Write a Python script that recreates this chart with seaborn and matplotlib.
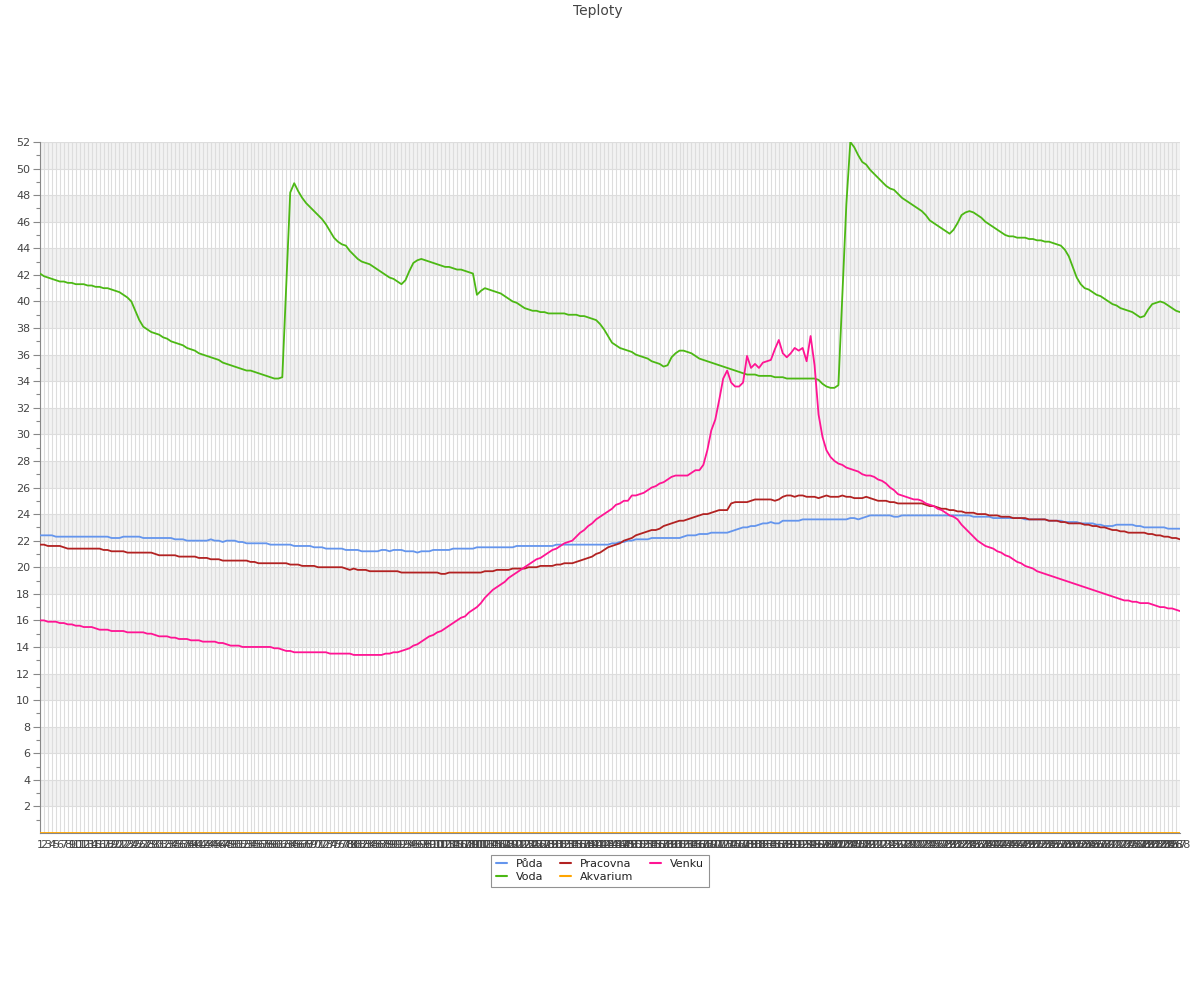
import numpy as np
import pandas as pd
import matplotlib
matplotlib.use("Agg")
import matplotlib.pyplot as plt
from matplotlib.lines import Line2D
import seaborn as sns

# ---------------- data ----------------
x_labels = [str(i) for i in range(1, 289)]

puda = [
    22.4, 22.4, 22.4, 22.4, 22.3, 22.3, 22.3, 22.3, 22.3, 22.3,
    22.3, 22.3, 22.3, 22.3, 22.3, 22.3, 22.3, 22.3, 22.2, 22.2,
    22.2, 22.3, 22.3, 22.3, 22.3, 22.3, 22.2, 22.2, 22.2, 22.2,
    22.2, 22.2, 22.2, 22.2, 22.1, 22.1, 22.1, 22.0, 22.0, 22.0,
    22.0, 22.0, 22.0, 22.1, 22.0, 22.0, 21.9, 22.0, 22.0, 22.0,
    21.9, 21.9, 21.8, 21.8, 21.8, 21.8, 21.8, 21.8, 21.7, 21.7,
    21.7, 21.7, 21.7, 21.7, 21.6, 21.6, 21.6, 21.6, 21.6, 21.5,
    21.5, 21.5, 21.4, 21.4, 21.4, 21.4, 21.4, 21.3, 21.3, 21.3,
    21.3, 21.2, 21.2, 21.2, 21.2, 21.2, 21.3, 21.3, 21.2, 21.3,
    21.3, 21.3, 21.2, 21.2, 21.2, 21.1, 21.2, 21.2, 21.2, 21.3,
    21.3, 21.3, 21.3, 21.3, 21.4, 21.4, 21.4, 21.4, 21.4, 21.4,
    21.5, 21.5, 21.5, 21.5, 21.5, 21.5, 21.5, 21.5, 21.5, 21.5,
    21.6, 21.6, 21.6, 21.6, 21.6, 21.6, 21.6, 21.6, 21.6, 21.6,
    21.7, 21.7, 21.7, 21.7, 21.7, 21.7, 21.7, 21.7, 21.7, 21.7,
    21.7, 21.7, 21.7, 21.7, 21.8, 21.8, 21.9, 21.9, 22.0, 22.0,
    22.1, 22.1, 22.1, 22.1, 22.2, 22.2, 22.2, 22.2, 22.2, 22.2,
    22.2, 22.2, 22.3, 22.4, 22.4, 22.4, 22.5, 22.5, 22.5, 22.6,
    22.6, 22.6, 22.6, 22.6, 22.7, 22.8, 22.9, 23.0, 23.0, 23.1,
    23.1, 23.2, 23.3, 23.3, 23.4, 23.3, 23.3, 23.5, 23.5, 23.5,
    23.5, 23.5, 23.6, 23.6, 23.6, 23.6, 23.6, 23.6, 23.6, 23.6,
    23.6, 23.6, 23.6, 23.6, 23.7, 23.7, 23.6, 23.7, 23.8, 23.9,
    23.9, 23.9, 23.9, 23.9, 23.9, 23.8, 23.8, 23.9, 23.9, 23.9,
    23.9, 23.9, 23.9, 23.9, 23.9, 23.9, 23.9, 23.9, 23.9, 23.9,
    23.9, 23.9, 23.9, 23.9, 23.9, 23.8, 23.8, 23.8, 23.8, 23.8,
    23.7, 23.7, 23.7, 23.7, 23.7, 23.7, 23.7, 23.7, 23.6, 23.6,
    23.6, 23.6, 23.6, 23.6, 23.5, 23.5, 23.5, 23.5, 23.4, 23.4,
    23.4, 23.4, 23.3, 23.3, 23.3, 23.3, 23.2, 23.2, 23.1, 23.1,
    23.1, 23.2, 23.2, 23.2, 23.2, 23.2, 23.1, 23.1, 23.0, 23.0,
    23.0, 23.0, 23.0, 23.0, 22.9, 22.9, 22.9, 22.9,
]

voda = [
    42.1, 41.9, 41.8, 41.7, 41.6, 41.5, 41.5, 41.4, 41.4, 41.3,
    41.3, 41.3, 41.2, 41.2, 41.1, 41.1, 41.0, 41.0, 40.9, 40.8,
    40.7, 40.5, 40.3, 40.0, 39.3, 38.6, 38.1, 37.9, 37.7, 37.6,
    37.5, 37.3, 37.2, 37.0, 36.9, 36.8, 36.7, 36.5, 36.4, 36.3,
    36.1, 36.0, 35.9, 35.8, 35.7, 35.6, 35.4, 35.3, 35.2, 35.1,
    35.0, 34.9, 34.8, 34.8, 34.7, 34.6, 34.5, 34.4, 34.3, 34.2,
    34.2, 34.3, 41.2, 48.2, 48.9, 48.3, 47.8, 47.4, 47.1, 46.8,
    46.5, 46.2, 45.8, 45.3, 44.8, 44.5, 44.3, 44.2, 43.8, 43.5,
    43.2, 43.0, 42.9, 42.8, 42.6, 42.4, 42.2, 42.0, 41.8, 41.7,
    41.5, 41.3, 41.6, 42.3, 42.9, 43.1, 43.2, 43.1, 43.0, 42.9,
    42.8, 42.7, 42.6, 42.6, 42.5, 42.4, 42.4, 42.3, 42.2, 42.1,
    40.5, 40.8, 41.0, 40.9, 40.8, 40.7, 40.6, 40.4, 40.2, 40.0,
    39.9, 39.7, 39.5, 39.4, 39.3, 39.3, 39.2, 39.2, 39.1, 39.1,
    39.1, 39.1, 39.1, 39.0, 39.0, 39.0, 38.9, 38.9, 38.8, 38.7,
    38.6, 38.3, 37.9, 37.4, 36.9, 36.7, 36.5, 36.4, 36.3, 36.2,
    36.0, 35.9, 35.8, 35.7, 35.5, 35.4, 35.3, 35.1, 35.2, 35.8,
    36.1, 36.3, 36.3, 36.2, 36.1, 35.9, 35.7, 35.6, 35.5, 35.4,
    35.3, 35.2, 35.1, 35.0, 34.9, 34.8, 34.7, 34.6, 34.5, 34.5,
    34.5, 34.4, 34.4, 34.4, 34.4, 34.3, 34.3, 34.3, 34.2, 34.2,
    34.2, 34.2, 34.2, 34.2, 34.2, 34.2, 34.1, 33.8, 33.6, 33.5,
    33.5, 33.7, 40.5, 47.3, 52.0, 51.6, 51.0, 50.5, 50.3, 49.9,
    49.6, 49.3, 49.0, 48.7, 48.5, 48.4, 48.1, 47.8, 47.6, 47.4,
    47.2, 47.0, 46.8, 46.5, 46.1, 45.9, 45.7, 45.5, 45.3, 45.1,
    45.4, 45.9, 46.5, 46.7, 46.8, 46.7, 46.5, 46.3, 46.0, 45.8,
    45.6, 45.4, 45.2, 45.0, 44.9, 44.9, 44.8, 44.8, 44.8, 44.7,
    44.7, 44.6, 44.6, 44.5, 44.5, 44.4, 44.3, 44.2, 43.9, 43.4,
    42.6, 41.8, 41.3, 41.0, 40.9, 40.7, 40.5, 40.4, 40.2, 40.0,
    39.8, 39.7, 39.5, 39.4, 39.3, 39.2, 39.0, 38.8, 38.9, 39.4,
    39.8, 39.9, 40.0, 39.9, 39.7, 39.5, 39.3, 39.2,
]

pracovna = [
    21.7, 21.7, 21.6, 21.6, 21.6, 21.6, 21.5, 21.4, 21.4, 21.4,
    21.4, 21.4, 21.4, 21.4, 21.4, 21.4, 21.3, 21.3, 21.2, 21.2,
    21.2, 21.2, 21.1, 21.1, 21.1, 21.1, 21.1, 21.1, 21.1, 21.0,
    20.9, 20.9, 20.9, 20.9, 20.9, 20.8, 20.8, 20.8, 20.8, 20.8,
    20.7, 20.7, 20.7, 20.6, 20.6, 20.6, 20.5, 20.5, 20.5, 20.5,
    20.5, 20.5, 20.5, 20.4, 20.4, 20.3, 20.3, 20.3, 20.3, 20.3,
    20.3, 20.3, 20.3, 20.2, 20.2, 20.2, 20.1, 20.1, 20.1, 20.1,
    20.0, 20.0, 20.0, 20.0, 20.0, 20.0, 20.0, 19.9, 19.8, 19.9,
    19.8, 19.8, 19.8, 19.7, 19.7, 19.7, 19.7, 19.7, 19.7, 19.7,
    19.7, 19.6, 19.6, 19.6, 19.6, 19.6, 19.6, 19.6, 19.6, 19.6,
    19.6, 19.5, 19.5, 19.6, 19.6, 19.6, 19.6, 19.6, 19.6, 19.6,
    19.6, 19.6, 19.7, 19.7, 19.7, 19.8, 19.8, 19.8, 19.8, 19.9,
    19.9, 19.9, 19.9, 20.0, 20.0, 20.0, 20.1, 20.1, 20.1, 20.1,
    20.2, 20.2, 20.3, 20.3, 20.3, 20.4, 20.5, 20.6, 20.7, 20.8,
    21.0, 21.1, 21.3, 21.5, 21.6, 21.7, 21.8, 22.0, 22.1, 22.2,
    22.4, 22.5, 22.6, 22.7, 22.8, 22.8, 22.9, 23.1, 23.2, 23.3,
    23.4, 23.5, 23.5, 23.6, 23.7, 23.8, 23.9, 24.0, 24.0, 24.1,
    24.2, 24.3, 24.3, 24.3, 24.8, 24.9, 24.9, 24.9, 24.9, 25.0,
    25.1, 25.1, 25.1, 25.1, 25.1, 25.0, 25.1, 25.3, 25.4, 25.4,
    25.3, 25.4, 25.4, 25.3, 25.3, 25.3, 25.2, 25.3, 25.4, 25.3,
    25.3, 25.3, 25.4, 25.3, 25.3, 25.2, 25.2, 25.2, 25.3, 25.2,
    25.1, 25.0, 25.0, 25.0, 24.9, 24.9, 24.8, 24.8, 24.8, 24.8,
    24.8, 24.8, 24.8, 24.7, 24.6, 24.6, 24.5, 24.4, 24.4, 24.3,
    24.3, 24.2, 24.2, 24.1, 24.1, 24.1, 24.0, 24.0, 24.0, 23.9,
    23.9, 23.9, 23.8, 23.8, 23.8, 23.7, 23.7, 23.7, 23.7, 23.6,
    23.6, 23.6, 23.6, 23.6, 23.5, 23.5, 23.5, 23.4, 23.4, 23.3,
    23.3, 23.3, 23.3, 23.2, 23.2, 23.1, 23.1, 23.0, 23.0, 22.9,
    22.8, 22.8, 22.7, 22.7, 22.6, 22.6, 22.6, 22.6, 22.6, 22.5,
    22.5, 22.4, 22.4, 22.3, 22.3, 22.2, 22.2, 22.1,
]

akvarium = [0.0] * 288

venku = [
    16.0, 16.0, 15.9, 15.9, 15.9, 15.8, 15.8, 15.7, 15.7, 15.6,
    15.6, 15.5, 15.5, 15.5, 15.4, 15.3, 15.3, 15.3, 15.2, 15.2,
    15.2, 15.2, 15.1, 15.1, 15.1, 15.1, 15.1, 15.0, 15.0, 14.9,
    14.8, 14.8, 14.8, 14.7, 14.7, 14.6, 14.6, 14.6, 14.5, 14.5,
    14.5, 14.4, 14.4, 14.4, 14.4, 14.3, 14.3, 14.2, 14.1, 14.1,
    14.1, 14.0, 14.0, 14.0, 14.0, 14.0, 14.0, 14.0, 14.0, 13.9,
    13.9, 13.8, 13.7, 13.7, 13.6, 13.6, 13.6, 13.6, 13.6, 13.6,
    13.6, 13.6, 13.6, 13.5, 13.5, 13.5, 13.5, 13.5, 13.5, 13.4,
    13.4, 13.4, 13.4, 13.4, 13.4, 13.4, 13.4, 13.5, 13.5, 13.6,
    13.6, 13.7, 13.8, 13.9, 14.1, 14.2, 14.4, 14.6, 14.8, 14.9,
    15.1, 15.2, 15.4, 15.6, 15.8, 16.0, 16.2, 16.3, 16.6, 16.8,
    17.0, 17.3, 17.7, 18.0, 18.3, 18.5, 18.7, 18.9, 19.2, 19.4,
    19.6, 19.8, 20.0, 20.2, 20.4, 20.6, 20.7, 20.9, 21.1, 21.3,
    21.4, 21.6, 21.8, 21.9, 22.0, 22.3, 22.6, 22.8, 23.1, 23.3,
    23.6, 23.8, 24.0, 24.2, 24.4, 24.7, 24.8, 25.0, 25.0, 25.4,
    25.4, 25.5, 25.6, 25.8, 26.0, 26.1, 26.3, 26.4, 26.6, 26.8,
    26.9, 26.9, 26.9, 26.9, 27.1, 27.3, 27.3, 27.7, 28.8, 30.3,
    31.1, 32.6, 34.2, 34.8, 33.9, 33.6, 33.6, 33.9, 35.9, 35.0,
    35.3, 35.0, 35.4, 35.5, 35.6, 36.4, 37.1, 36.1, 35.8, 36.1,
    36.5, 36.3, 36.5, 35.5, 37.4, 35.2, 31.5, 29.8, 28.8, 28.3,
    28.0, 27.8, 27.7, 27.5, 27.4, 27.3, 27.2, 27.0, 26.9, 26.9,
    26.8, 26.6, 26.5, 26.3, 26.0, 25.8, 25.5, 25.4, 25.3, 25.2,
    25.1, 25.1, 25.0, 24.8, 24.7, 24.6, 24.4, 24.3, 24.1, 23.9,
    23.8, 23.6, 23.2, 22.9, 22.6, 22.3, 22.0, 21.8, 21.6, 21.5,
    21.4, 21.2, 21.1, 20.9, 20.8, 20.6, 20.4, 20.3, 20.1, 20.0,
    19.9, 19.7, 19.6, 19.5, 19.4, 19.3, 19.2, 19.1, 19.0, 18.9,
    18.8, 18.7, 18.6, 18.5, 18.4, 18.3, 18.2, 18.1, 18.0, 17.9,
    17.8, 17.7, 17.6, 17.5, 17.5, 17.4, 17.4, 17.3, 17.3, 17.3,
    17.2, 17.1, 17.0, 17.0, 16.9, 16.9, 16.8, 16.7,
]

series_names = ["Půda", "Voda", "Pracovna", "Akvarium", "Venku"]
series_colors = ["#6495ED", "#4CB814", "#B22222", "#FFA500", "#FF1493"]
series_values = [puda, voda, pracovna, akvarium, venku]

for n, v in zip(series_names, series_values):
    if len(v) != len(x_labels):
        raise SystemExit(f"{n}: {len(v)} values")

# long-form table for seaborn
frames = []
for name, vals in zip(series_names, series_values):
    frames.append(pd.DataFrame({"idx": np.arange(1, len(vals) + 1),
                                "value": vals, "series": name}))
df = pd.concat(frames, ignore_index=True)

# ---------------- plotting ----------------
sns.set_theme(style="white")
plt.rcParams["font.family"] = ["DejaVu Sans"]

W, H = 1200, 1000
fig = plt.figure(figsize=(W / 100, H / 100), dpi=100)
ax = fig.add_axes([40 / W, 1 - 833 / H, 1140 / W, 691 / H])

# alternating bands
for k in range(1, 26, 2):
    ax.axhspan(2 * k, 2 * k + 2, color="#f2f2f2", zorder=0, lw=0)

palette = dict(zip(series_names, series_colors))
sns.lineplot(data=df, x="idx", y="value", hue="series",
             hue_order=series_names, palette=palette,
             linewidth=1.3, ax=ax, legend=False, zorder=3)

ax.set_xlim(1, len(x_labels))
ax.set_ylim(0, 52)
ax.set_xlabel("")
ax.set_ylabel("")

ax.set_xticks(np.arange(1, len(x_labels) + 1))
ax.set_xticklabels(x_labels)
ax.set_yticks(np.arange(2, 53, 2))
ax.set_yticks(np.arange(1, 52, 2), minor=True)

ax.grid(True, which="major", color="#dddddd", lw=0.8, zorder=1)
ax.set_axisbelow(True)

ax.tick_params(axis="y", which="major", length=5, width=0.8, color="#888888",
               labelsize=8, labelcolor="#444444", pad=2, left=True)
ax.tick_params(axis="y", which="minor", length=3, width=0.8, color="#888888",
               left=True)
ax.tick_params(axis="x", which="major", length=0, labelsize=8,
               labelcolor="#444444", pad=5)

for s in ["top", "right"]:
    ax.spines[s].set_visible(False)
for s in ["left", "bottom"]:
    ax.spines[s].set_color("#888888")
    ax.spines[s].set_linewidth(0.8)

fig.text(598 / W, 1 - 11 / H, "Teploty", ha="center", va="center",
         fontsize=10, color="#444444")

handles = [Line2D([0], [0], color=c, lw=1.5) for c in series_colors]
leg = fig.legend(handles, series_names, ncol=3, loc="upper center",
                 bbox_to_anchor=(600 / W, 1 - 849 / H), fontsize=8,
                 frameon=True, fancybox=False, edgecolor="#777777",
                 handlelength=1.0, handletextpad=0.8, columnspacing=1.5,
                 borderpad=0.4, labelspacing=0.3)
leg.get_frame().set_linewidth(0.8)
for t in leg.get_texts():
    t.set_color("#222222")

fig.savefig("out.png", dpi=100, facecolor="white")
